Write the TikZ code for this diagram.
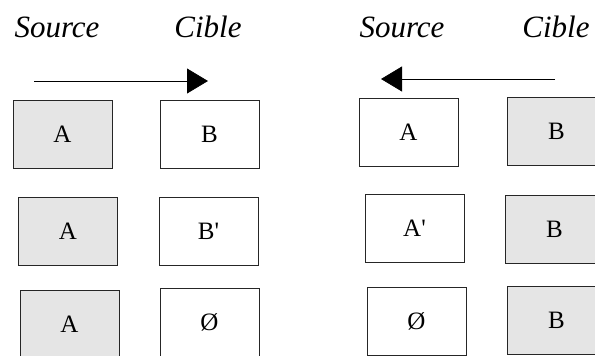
\documentclass[tikz,border=0pt]{standalone}
\usepackage{fontspec}
\setmainfont{Liberation Serif}
\usepackage{xcolor}
\usepackage{tikz}
\usetikzlibrary{arrows.meta}

\begin{document}
\begin{tikzpicture}[
    x=1pt, y=-1pt,
    cell/.style={rectangle, draw=black!85, line width=0.8pt, fill=white, minimum width=99pt, minimum height=68pt, inner sep=0pt, font=\fontsize{25}{28}\selectfont},
    filled/.style={cell, fill=black!10},
    title/.style={anchor=base, font=\fontsize{31}{34}\selectfont\itshape},
    arrow/.style={-{Triangle[length=21pt, width=25pt]}, line width=0.8pt, draw=black}
]
\useasboundingbox (0,0) rectangle (595,356);

% Left: Source -> Cible
\node[title] (srcL) at (57,37) {Source};
\node[title] (cibL) at (208,37) {Cible};
\coordinate (fromL) at (34,81);
\coordinate (toL) at (208,81);

\node[filled] (a1) at (62.5,134) {A};
\node[cell] (b1) at (209.5,134) {B};
\node[filled] (a2) at (68,231) {A};
\node[cell] (b2) at (208.5,231.5) {B\textquotesingle};
\node[filled] (a3) at (69.5,324) {A};
\node[cell] (b3) at (209.5,322) {Ø};

% Right: Cible -> Source
\node[title] (srcR) at (402,37) {Source};
\node[title] (cibR) at (556,37) {Cible};
\coordinate (fromR) at (555,79);
\coordinate (toR) at (381,79);

\node[cell] (a1r) at (408.5,132) {A};
\node[filled] (b1r) at (556.5,131.5) {B};
\node[cell] (a2r) at (414.5,228.5) {A\textquotesingle};
\node[filled] (b2r) at (554.5,229) {B};
\node[cell] (a3r) at (416.5,321) {Ø};
\node[filled] (b3r) at (556.5,320) {B};

% Direction arrows
\draw[arrow] (fromL) -- (toL);
\draw[arrow] (fromR) -- (toR);

\end{tikzpicture}
\end{document}
